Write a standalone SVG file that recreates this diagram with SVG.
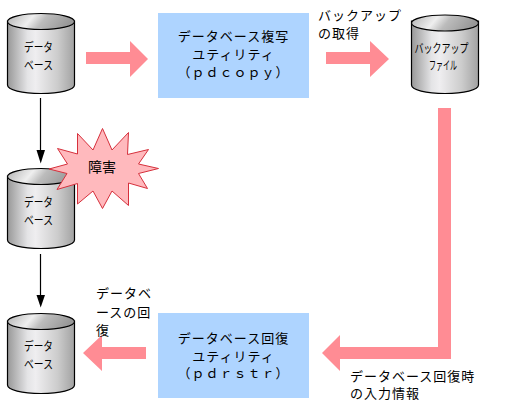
<svg xmlns="http://www.w3.org/2000/svg" width="512" height="416" viewBox="0 0 512 416">
<style>
text{font-family:"Noto Sans CJK JP","Noto Sans",sans-serif;fill:#000}
.l{font-size:13px;letter-spacing:1px}
.c{font-size:13px;letter-spacing:1px;text-anchor:middle}
.n{font-size:12px;text-anchor:middle}
.box{fill:#aed4ff}
.arrow{fill:#ff8c94}
.body{fill:url(#g);stroke:#000;stroke-width:1.2}
.top{fill:url(#t);stroke:#000;stroke-width:1.2}
.line{stroke:#000;stroke-width:1.2;fill:none}
</style>
<defs>
<linearGradient id="g" x1="0" x2="1" y1="0" y2="0"><stop offset="0" stop-color="#989898"/><stop offset=".3" stop-color="#e4e4e6"/><stop offset=".42" stop-color="#efeef0"/><stop offset=".75" stop-color="#cccccc"/><stop offset="1" stop-color="#a2a2a2"/></linearGradient>
<linearGradient id="t" x1="0" x2="1" y1="0" y2=".2"><stop offset="0" stop-color="#b0b0b0"/><stop offset=".4" stop-color="#efefef"/><stop offset=".6" stop-color="#bcbcbc"/><stop offset="1" stop-color="#989898"/></linearGradient>
<path id="cyl" d="M7.500 21V85C7.500 90 22 93.500 41 93.500S74.500 90 74.500 85V21Z"/>
</defs>
<g id="connectors">
<path class="arrow" d="M86 52H130V41L148 59L130 77V64H86Z"/>
<path class="arrow" d="M326 52H370V41L389 59L370 77V64H326Z"/>
<path class="arrow" d="M438 108H451V359H340V371L322 353L340 335V347H438Z"/>
<path class="arrow" d="M146 347V359H102V371L83 353L102 335V347Z"/>
<path class="line" d="M40.500 98V152"/><path d="M36.500 150H45L40.700 163.500Z"/>
<path class="line" d="M40.500 254V297"/><path d="M36.500 295H45L40.700 307.500Z"/>
</g>
<g id="db1"><use href="#cyl" class="body"/><ellipse class="top" cx="41" cy="21.500" rx="33.500" ry="8"/><text class="n" x="38.500" y="52" textLength="29" lengthAdjust="spacingAndGlyphs">データ</text><text class="n" x="38.500" y="70" textLength="29" lengthAdjust="spacingAndGlyphs">ベース</text></g>
<g id="db2"><use href="#cyl" y="155" class="body"/><ellipse class="top" cx="41" cy="176.500" rx="33.500" ry="8"/><text class="n" x="38.500" y="207" textLength="29" lengthAdjust="spacingAndGlyphs">データ</text><text class="n" x="38.500" y="225" textLength="29" lengthAdjust="spacingAndGlyphs">ベース</text></g>
<g id="db3"><use href="#cyl" y="300" class="body"/><ellipse class="top" cx="41" cy="321.500" rx="33.500" ry="8"/><text class="n" x="38.500" y="351" textLength="29" lengthAdjust="spacingAndGlyphs">データ</text><text class="n" x="38.500" y="369" textLength="29" lengthAdjust="spacingAndGlyphs">ベース</text></g>
<g id="backup"><use href="#cyl" x="404" class="body"/><ellipse class="top" cx="445" cy="23" rx="33.500" ry="8"/><text class="n" x="441.500" y="53" textLength="54" lengthAdjust="spacingAndGlyphs">バックアップ</text><text class="n" x="443" y="70" textLength="28" lengthAdjust="spacingAndGlyphs">ファイル</text></g>
<g id="copy"><rect class="box" x="158" y="13" width="151" height="85"/><text class="c" x="233.500" y="41">データベース複写</text><text class="c" x="233.500" y="59">ユティリティ</text><text class="c" x="233.500" y="77">（ｐｄｃｏｐｙ）</text></g>
<g id="restore"><rect class="box" x="158" y="313" width="151" height="85"/><text class="c" x="233.500" y="343">データベース回復</text><text class="c" x="233.500" y="360.500">ユティリティ</text><text class="c" x="233.500" y="378">（ｐｄｒｓｔｒ）</text></g>
<g id="failure"><polygon points="102.500,128.500 112,150 128.500,132.500 127.500,154.500 148.500,149.500 138.500,164 158.500,168.500 138.500,173.500 147.500,188.500 128.500,183 128.500,205.500 112,191 102.500,208.500 93,191 77.500,204 77.500,183.500 57,189.500 67,173.500 49,169 67.500,164 57.500,148.500 77.500,154 77.500,133.500 93,150" fill="#ffb9bd" stroke="#d6303c" stroke-width="1"/><text x="102" y="172" font-size="14" text-anchor="middle">障害</text></g>
<g id="labels">
<text class="l" x="318" y="20">バックアップ</text><text class="l" x="318" y="38">の取得</text>
<text class="l" x="96" y="298">データベ</text><text class="l" x="96" y="316.500">ースの回</text><text class="l" x="96" y="335">復</text>
<text class="l" x="350" y="380.500">データベース回復時</text><text class="l" x="350" y="398">の入力情報</text>
</g>
</svg>
